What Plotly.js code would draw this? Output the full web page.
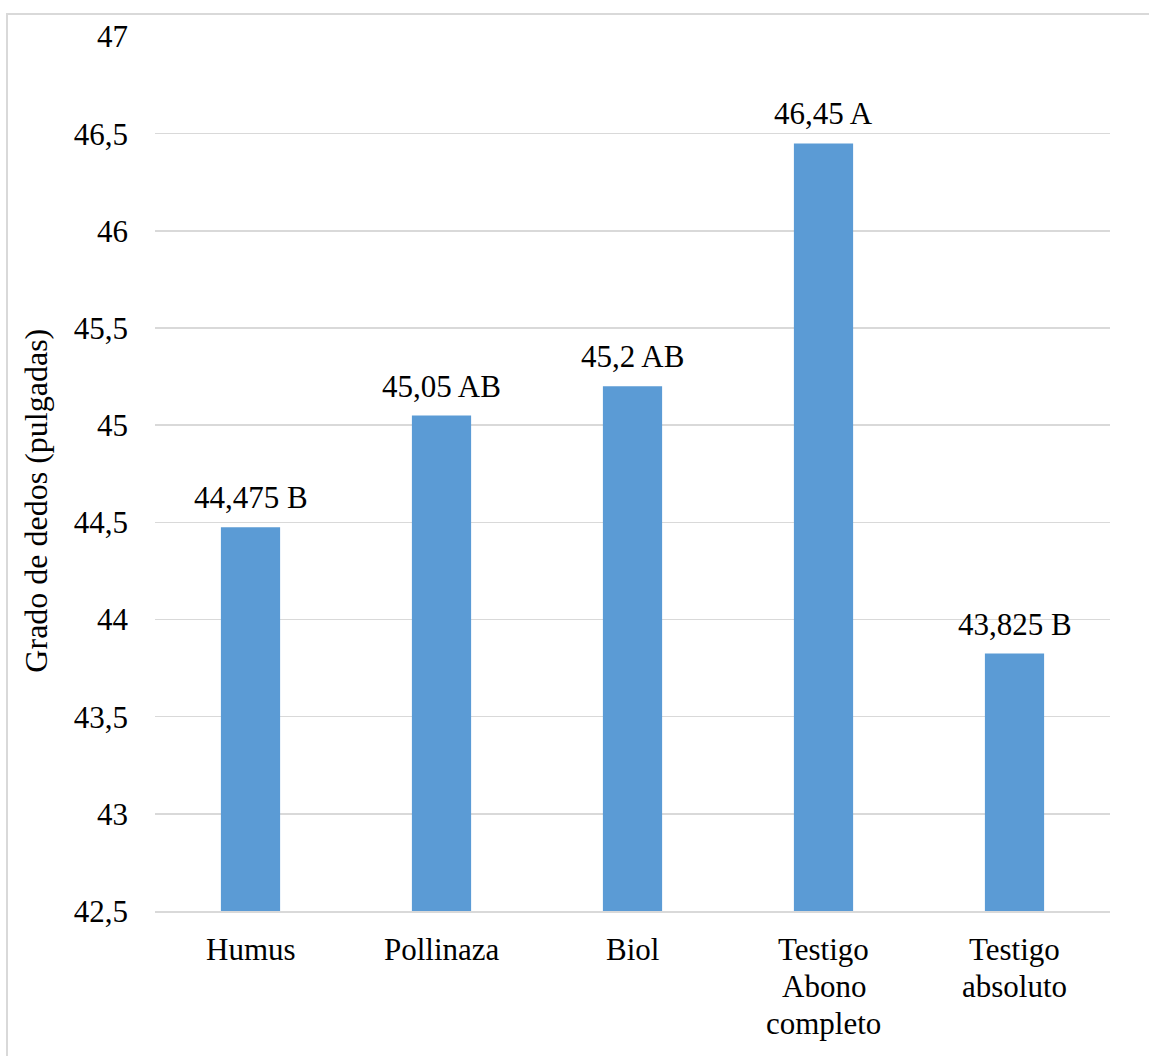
<!DOCTYPE html>
<html>
<head>
<meta charset="utf-8">
<script src="https://cdn.plot.ly/plotly-3.0.1.min.js"></script>
<style>
html,body{margin:0;padding:0;background:#fff;}
#wrap{position:relative;width:1149px;height:1056px;overflow:hidden;}
#frame{position:absolute;left:6px;top:13px;width:1200px;height:1100px;border:2px solid #d9d9d9;box-sizing:border-box;}
#chart{position:absolute;left:0;top:0;width:1149px;height:1056px;}
</style>
</head>
<body>
<div id="wrap"><div id="frame"></div><div id="chart"></div></div>
<script>
const categories = ["Humus", "Pollinaza", "Biol", "Testigo Abono completo", "Testigo absoluto"];
const categoryLines = [["Humus"], ["Pollinaza"], ["Biol"], ["Testigo", "Abono", "completo"], ["Testigo", "absoluto"]];
const values = [44.475, 45.05, 45.2, 46.45, 43.825];
const valueLabels = ["44,475 B", "45,05 AB", "45,2 AB", "46,45 A", "43,825 B"];
const yTickVals = [42.5, 43, 43.5, 44, 44.5, 45, 45.5, 46, 46.5, 47];
const yTickText = ["42,5", "43", "43,5", "44", "44,5", "45", "45,5", "46", "46,5", "47"];
const yTitle = "Grado de dedos (pulgadas)";
const yMin = 42.5, yMax = 47;

const font = {family: "Liberation Serif, Times New Roman, serif", size: 31, color: "#000"};
const titleFont = {family: "Liberation Serif, Times New Roman, serif", size: 32, color: "#000"};

const trace = {
  type: "bar",
  x: categories,
  y: values.map(v => v - yMin),
  base: yMin,
  marker: {color: "#5b9bd5"},
  hoverinfo: "none"
};

const annotations = categories.map((c, i) => ({
  x: c, y: values[i], xref: "x", yref: "y",
  text: valueLabels[i], showarrow: false,
  yanchor: "bottom", yshift: 10, font: font
}));

categories.forEach((c, i) => {
  categoryLines[i].forEach((line, j) => {
    annotations.push({
      x: c, y: 0, xref: "x", yref: "paper",
      text: line, showarrow: false,
      yanchor: "middle", yshift: -(38 + j * 37), font: font
    });
  });
});

annotations.push({
  x: 0, y: 0.469, xref: "paper", yref: "paper",
  xanchor: "center", yanchor: "middle", xshift: -119,
  text: yTitle, textangle: -90, showarrow: false, font: titleFont
});

const layout = {
  width: 1149, height: 1056,
  margin: {l: 155, r: 39, t: 36, b: 145},
  paper_bgcolor: "rgba(0,0,0,0)",
  plot_bgcolor: "rgba(0,0,0,0)",
  font: font,
  bargap: 0.69,
  showlegend: false,
  xaxis: {
    type: "category",
    showgrid: false,
    showline: true, linecolor: "#d9d9d9", linewidth: 2,
    ticks: "", showticklabels: false
  },
  yaxis: {
    range: [yMin, yMax + 0.003],
    tickvals: yTickVals, ticktext: yTickText,
    showgrid: true, gridcolor: "#d9d9d9", gridwidth: 1.5,
    zeroline: false, showline: false, ticks: "",
    tickfont: font,
    ticklabelstandoff: 26
  },
  annotations: annotations
};

Plotly.newPlot("chart", [trace], layout, {staticPlot: true, displayModeBar: false});
</script>
</body>
</html>
